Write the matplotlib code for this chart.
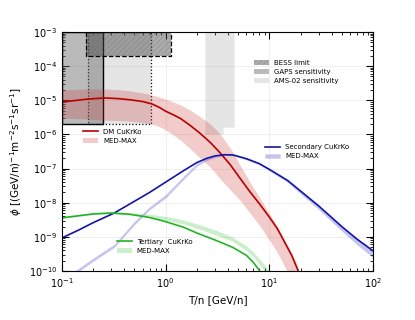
import matplotlib
matplotlib.use("Agg")
import matplotlib.pyplot as plt
import numpy as np

# DM antideuteron flux (CuKrKo) and MED-MAX band
T_dm = [0.1, 0.14, 0.18, 0.26, 0.35, 0.45, 0.6, 0.74, 0.87, 1.0, 1.2, 1.4, 1.7, 2.1,
        2.7, 3.3, 4.2, 5.2, 6.5, 8.1, 10, 12, 14, 16.5, 19, 25]
dm_line = [8.9e-6, 1.0e-5, 1.09e-5, 1.17e-5, 1.12e-5, 1.04e-5, 9.2e-6, 7.8e-6, 6.2e-6,
           4.8e-6, 3.7e-6, 2.9e-6, 1.9e-6, 1.15e-6, 5.8e-7, 3.05e-7, 1.3e-7, 5.3e-8,
           2.1e-8, 9.0e-9, 3.8e-9, 1.7e-9, 7.1e-10, 2.8e-10, 1.0e-10, 1.2e-11]
dm_up = [2.0e-5, 2.1e-5, 2.14e-5, 2.14e-5, 2.05e-5, 1.9e-5, 1.65e-5, 1.43e-5, 1.25e-5,
         1.09e-5, 8.8e-6, 7.3e-6, 5.3e-6, 3.5e-6, 2.0e-6, 1.1e-6, 4.0e-7, 1.3e-7,
         4.0e-8, 1.4e-8, 4.8e-9, 2.0e-9, 8.3e-10, 3.2e-10, 1.2e-10, 1.5e-11]
dm_low = [3.0e-6, 2.9e-6, 2.83e-6, 2.64e-6, 2.55e-6, 2.45e-6, 2.25e-6, 2.0e-6, 1.7e-6,
          1.35e-6, 9.5e-7, 6.8e-7, 4.0e-7, 2.2e-7, 1.1e-7, 5.3e-8, 2.4e-8, 1.2e-8,
          5.0e-9, 2.1e-9, 8.1e-10, 3.4e-10, 1.4e-10, 5.0e-11, 2.0e-11, 3.0e-12]

# secondary flux
T_sec = [0.1, 0.146, 0.2, 0.32, 0.5, 0.7, 1.0, 1.5, 2.0, 2.5, 3.0, 3.7, 4.5, 6.0, 8.0,
         10, 15, 20, 30, 50, 70, 100]
sec_line = [9.3e-10, 1.6e-9, 2.6e-9, 5.0e-9, 1.1e-8, 2.0e-8, 4.0e-8, 8.8e-8, 1.5e-7,
            2.0e-7, 2.35e-7, 2.55e-7, 2.5e-7, 1.95e-7, 1.4e-7, 9.5e-8, 4.5e-8, 2.2e-8,
            8.0e-9, 2.0e-9, 8.6e-10, 3.9e-10]
sec_low = [4.8e-11, 1.0e-10, 1.95e-10, 5.0e-10, 2.3e-9, 6.3e-9, 1.4e-8, 5.0e-8, 1.2e-7,
           1.75e-7, 2.15e-7, 2.45e-7, 2.4e-7, 1.85e-7, 1.3e-7, 8.8e-8, 4.0e-8, 1.85e-8,
           6.4e-9, 1.5e-9, 6.0e-10, 2.5e-10]
sec_up = [5.8e-11, 1.2e-10, 2.35e-10, 6.0e-10, 2.8e-9, 7.5e-9, 1.7e-8, 6.0e-8, 1.4e-7,
          1.95e-7, 2.35e-7, 2.55e-7, 2.5e-7, 1.95e-7, 1.4e-7, 9.5e-8, 4.5e-8, 2.2e-8,
          8.0e-9, 2.0e-9, 8.6e-10, 3.9e-10]

# tertiary flux
T_ter = [0.1, 0.14, 0.2, 0.3, 0.45, 0.7, 1.0, 1.5, 2.0, 3.0, 4.4, 6.0, 7.0, 8.1, 10]
ter_line = [3.6e-9, 4.1e-9, 4.7e-9, 5.0e-9, 4.6e-9, 3.7e-9, 2.8e-9, 1.9e-9, 1.3e-9,
            8.1e-10, 5.0e-10, 2.9e-10, 1.8e-10, 1.0e-10, 4.0e-11]
ter_up = [4.0e-9, 4.5e-9, 5.1e-9, 5.4e-9, 5.1e-9, 4.6e-9, 4.0e-9, 3.1e-9, 2.4e-9,
          1.6e-9, 1.0e-9, 5.5e-10, 3.6e-10, 2.2e-10, 1.0e-10]
ter_low = [3.5e-9, 4.0e-9, 4.5e-9, 4.8e-9, 4.5e-9, 3.8e-9, 3.1e-9, 2.4e-9, 1.8e-9,
           1.15e-9, 7.5e-10, 4.0e-10, 2.6e-10, 1.5e-10, 6.5e-11]

# experimental limits / sensitivities
bess_T = [0.17, 1.14]
bess_phi = 2e-4
gaps_T = [0.1, 0.25]
gaps_phi = 2e-6
ams_T = [0.18, 0.73]
ams_phi = 2e-6
ams_hi_T = [2.4, 3.6, 4.6]
ams_hi_phi = [1e-6, 1.6e-6, 1.6e-6]
phi_top = 1e-3

plt.rcParams["hatch.linewidth"] = 0.4

fig = plt.figure(figsize=(4.15, 3.2), dpi=100)
ax = fig.add_axes([0.149, 0.153, 0.75, 0.747])

# limits
h_ams = ax.fill_between(ams_T, ams_phi, phi_top, facecolor="0.55", alpha=0.22, lw=0,
                        label="AMS-02 sensitivity")
ax.fill_between(ams_T, ams_phi, phi_top, facecolor="none", edgecolor="k", ls=":", lw=0.9)
ax.fill_between(ams_hi_T, ams_hi_phi, phi_top, step="post", facecolor="0.55", alpha=0.22,
                edgecolor="0.8", ls=":", lw=0.6)
h_gaps = ax.fill_between(gaps_T, gaps_phi, phi_top, facecolor="0.4", alpha=0.45, lw=0,
                         label="GAPS sensitivity")
ax.fill_between(gaps_T, gaps_phi, phi_top, facecolor="none", edgecolor="k", lw=1.0)
h_bess = ax.fill_between(bess_T, bess_phi, phi_top, facecolor="0.28", alpha=0.45,
                         edgecolor="0.4", hatch="//////", lw=0, label="BESS limit")
ax.fill_between(bess_T, bess_phi, phi_top, facecolor="none", edgecolor="k", ls="--", lw=0.9)

# fluxes
red = "#b80000"
blue = "#1414a8"
green = "#22b522"
dm_band = ax.fill_between(T_dm, dm_low, dm_up, color="#cc3333", alpha=0.25, lw=0)
dm_l, = ax.plot(T_dm, dm_line, color=red, lw=1.2)
sec_band = ax.fill_between(T_sec, sec_low, sec_up, color="#3030c0", alpha=0.28, lw=0.5,
                           edgecolor="#b0b0e8")
sec_l, = ax.plot(T_sec, sec_line, color=blue, lw=1.2)
ter_band = ax.fill_between(T_ter, ter_low, ter_up, color="#30c030", alpha=0.25, lw=0)
ter_l, = ax.plot(T_ter, ter_line, color=green, lw=1.2)

ax.set_xscale("log")
ax.set_yscale("log")
ax.set_xlim(0.1, 100)
ax.set_ylim(1e-10, 1e-3)
ax.set_xlabel("T/n [GeV/n]", fontsize=7.5)
ax.set_ylabel(r"$\phi$ [(GeV/n)$^{-1}$m$^{-2}$s$^{-1}$sr$^{-1}$]", fontsize=7.5, labelpad=3)
ax.tick_params(which="both", direction="in", top=True, right=True, labelsize=7)
ax.tick_params(which="major", length=5, width=0.8)
ax.tick_params(which="minor", length=2.5, width=0.6)
ax.grid(True, which="major", color="0.93", lw=0.6)
ax.set_axisbelow(True)

leg_kw = dict(frameon=False, fontsize=5, handlelength=2.2, handletextpad=0.7,
              labelspacing=0.45, borderpad=0, borderaxespad=0, loc="upper left")
leg1 = ax.legend([dm_l, dm_band], ["DM CuKrKo", "MED-MAX"], bbox_to_anchor=(0.068, 0.595), **leg_kw)
ax.add_artist(leg1)
leg2 = ax.legend([sec_l, sec_band], ["Secondary CuKrKo", "MED-MAX"], bbox_to_anchor=(0.653, 0.53), **leg_kw)
ax.add_artist(leg2)
leg3 = ax.legend([ter_l, ter_band], ["Tertiary  CuKrKo", "MED-MAX"], bbox_to_anchor=(0.176, 0.135), **leg_kw)
ax.add_artist(leg3)
ax.legend([h_bess, h_gaps, h_ams], ["BESS limit", "GAPS sensitivity", "AMS-02 sensitivity"],
          bbox_to_anchor=(0.617, 0.883), **leg_kw)

fig.savefig("out.png", dpi=100)
